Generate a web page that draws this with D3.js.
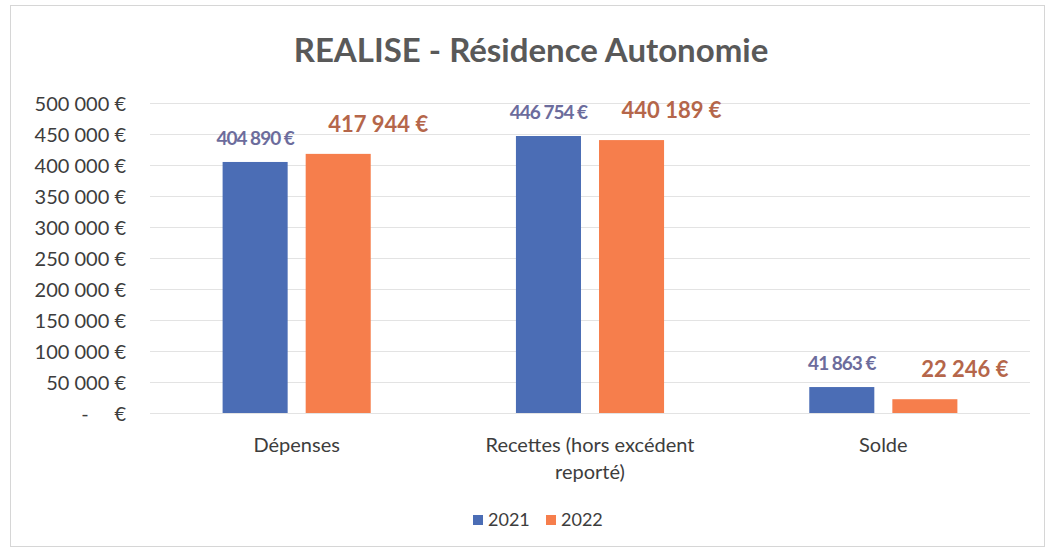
<!DOCTYPE html>
<html><head><meta charset="utf-8">
<script src="https://cdn.jsdelivr.net/npm/d3@7"></script>
<style>body{margin:0;background:#fff}svg text{white-space:pre}</style>
</head><body><svg id="c" width="1053" height="552"></svg>
<script>
const title = "REALISE - Résidence Autonomie";
const categories = ["Dépenses", "Recettes (hors excédent reporté)", "Solde"];
const categoryLines = [["Dépenses"], ["Recettes (hors excédent", "reporté)"], ["Solde"]];
const seriesNames = ["2021", "2022"];
const values2021 = [404890, 446754, 41863];
const values2022 = [417944, 440189, 22246];
const yTicks = [0, 50000, 100000, 150000, 200000, 250000, 300000, 350000, 400000, 450000, 500000];

(function () {
const colors = ["#4b6db5", "#f67e4c"];
const labelColors = ["#6c6c9c", "#b5664a"];
const labelDx = [0, 40];
const labelDy = [-17, -22];
const labelSize = [19, 22];
const labelSpacing = [-1, 0];

const svg = d3.select("#c");
const font = "Lato, 'Open Sans', sans-serif";
svg.append("rect").attr("x", 10.5).attr("y", 5.5).attr("width", 1034).attr("height", 541)
  .attr("fill", "none").attr("stroke", "#d6d6d6");

const pLeft = 150, pRight = 1030, pTop = 103, pBottom = 413;
const x = d3.scaleBand().domain(categories).range([pLeft, pRight]);
const xs = d3.scaleBand().domain(seriesNames).range([0, x.bandwidth()]).paddingInner(0.217).paddingOuter(0.874);
const y = d3.scaleLinear().domain([0, 500000]).range([pBottom, pTop]);

svg.append("text").attr("x", 531).attr("y", 62).attr("text-anchor", "middle")
  .attr("font-family", font).attr("font-weight", "bold").attr("font-size", 33).attr("fill", "#595959").text(title);

const fmt = d3.formatLocale({thousands: " ", grouping: [3], decimal: ",", currency: ["", " €"]}).format(",d");
svg.append("g").selectAll("line").data(yTicks).join("line")
  .attr("x1", pLeft).attr("x2", pRight).attr("y1", d => y(d) + 0.5).attr("y2", d => y(d) + 0.5)
  .attr("stroke", "#e3e3e3");

const yAxis = d3.axisLeft(y).tickValues(yTicks).tickSize(0).tickPadding(0)
  .tickFormat(d => d === 0 ? "-     €" : fmt(d) + " €");
const ga = svg.append("g").attr("transform", `translate(126,0)`).call(yAxis);
ga.select(".domain").remove();
ga.selectAll("text").attr("font-family", font).attr("font-size", 20).attr("fill", "#3d3d3d").attr("dy", "0.35em");

const series = [values2021, values2022];
series.forEach((vals, si) => {
  const g = svg.append("g");
  g.selectAll("rect").data(vals).join("rect")
    .attr("x", (d, i) => x(categories[i]) + xs(seriesNames[si]))
    .attr("width", xs.bandwidth())
    .attr("y", d => y(d)).attr("height", d => y(0) - y(d))
    .attr("fill", colors[si]);
  g.selectAll("text").data(vals).join("text")
    .attr("x", (d, i) => x(categories[i]) + xs(seriesNames[si]) + xs.bandwidth() / 2 + labelDx[si])
    .attr("y", d => y(d) + labelDy[si])
    .attr("text-anchor", "middle").attr("font-family", font).attr("font-weight", "bold")
    .attr("font-size", labelSize[si]).attr("fill", labelColors[si])
    .attr("letter-spacing", labelSpacing[si])
    .text(d => fmt(d) + " €");
});

categories.forEach((c, i) => {
  categoryLines[i].forEach((ln, j) => {
    svg.append("text").attr("x", x(c) + x.bandwidth() / 2).attr("y", 452 + j * 27)
      .attr("text-anchor", "middle").attr("font-family", font).attr("font-size", 20).attr("fill", "#3d3d3d").text(ln);
  });
});

const legX = [473, 546];
seriesNames.forEach((s, i) => {
  svg.append("rect").attr("x", legX[i]).attr("y", 515).attr("width", 10).attr("height", 10).attr("fill", colors[i]);
  svg.append("text").attr("x", legX[i] + 15).attr("y", 526).attr("font-family", font).attr("font-size", 18)
    .attr("fill", "#3d3d3d").text(s);
});
})();
</script></body></html>
